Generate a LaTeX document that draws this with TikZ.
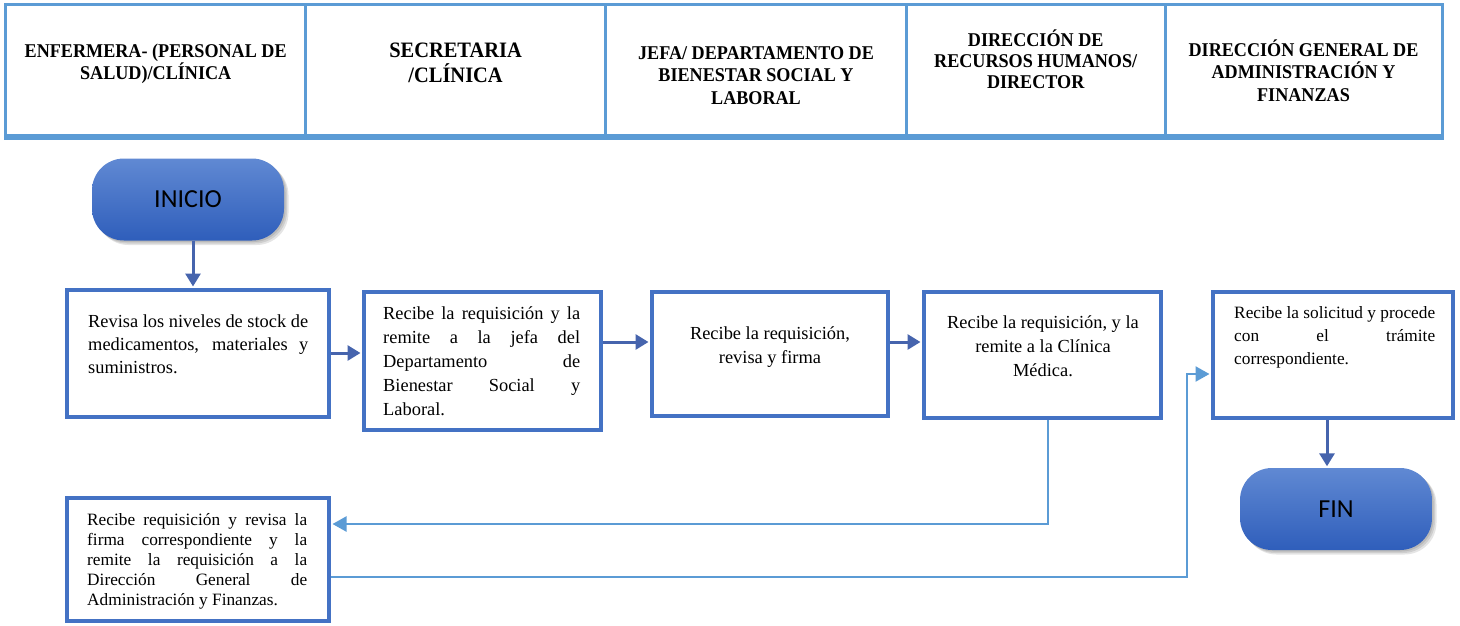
\documentclass[tikz,border=0pt]{standalone}
\usepackage{fontspec}
\setmainfont{Liberation Serif}
\newfontfamily\hdrfont[FakeStretch=0.93]{Liberation Serif}
\newfontfamily\pillfont{Carlito}
\usetikzlibrary{arrows.meta,shadows}
\definecolor{hdrblue}{HTML}{5B9BD5}
\definecolor{boxblue}{HTML}{4472C4}
\definecolor{arrblue}{HTML}{4664AD}
\definecolor{lnkblue}{HTML}{5B9BD5}
\definecolor{pilltop}{HTML}{6089D3}
\definecolor{pillbot}{HTML}{2F5EBB}
\tikzset{
  % fixed interword spaces of the font's own width inside aligned node text
  natspaces/.style={execute at begin node={\spaceskip=\fontdimen2\font\xspaceskip=\fontdimen2\font}},
  hcell/.style={draw=hdrblue, line width=3pt, minimum height=130.8pt, inner sep=0pt},
  htext/.style={font=\hdrfont\bfseries\fontsize{#1}{22.5}\selectfont, align=center, text width=290pt, inner sep=0pt, anchor=base, natspaces},
  stepbox/.style={draw=boxblue, line width=4pt, fill=white, inner sep=0pt},
  btext/.style={align=left, inner sep=0pt, anchor=base west, natspaces},
  ctext/.style={align=center, inner sep=0pt, anchor=base, text width=230pt, natspaces},
  softshadow/.style={drop shadow={shadow xshift=#1pt, shadow yshift=-#1pt, opacity=0.10, fill=black}},
  pill/.style={rounded corners=32pt, draw=none, top color=pilltop, bottom color=pillbot,
    minimum width=192pt, minimum height=82pt, inner sep=0pt,
    font=\pillfont\fontsize{26}{30}\selectfont,
    softshadow=1.5, softshadow=3, softshadow=4.5},
  darr/.style={draw=arrblue, line width=3pt, shorten >=1.5pt,
    -{Triangle[length=13pt,width=15pt]}},
  larr/.style={draw=lnkblue, line width=2.3pt, shorten >=1.5pt,
    -{Triangle[length=14pt,width=15pt]}},
}
% one fully justified line of a given width
\newcommand{\jline}[2]{\makebox[#1][s]{\spaceskip=0pt\xspaceskip=0pt #2}}
\begin{document}
\begin{tikzpicture}[x=1pt,y=-1pt]
\useasboundingbox (0,0) rectangle (1460,625);

% header row with the five areas
\node[hcell, minimum width=300pt]   (h1) at (155.7,70.1) {};
\node[hcell, minimum width=299.8pt] (h2) at (455.6,70.1) {};
\node[hcell, minimum width=301pt]   (h3) at (756,70.1) {};
\node[hcell, minimum width=258.5pt] (h4) at (1035.75,70.1) {};
\node[hcell, minimum width=277pt]   (h5) at (1303.5,70.1) {};
\draw[hdrblue, line width=5.6pt] (h1.south west) -- (h5.south east);

\node[htext=19.5] (ht1) at (155.7,57) {ENFERMERA- (PERSONAL DE\\SALUD)/CLÍNICA};
\node[htext=22, font=\hdrfont\bfseries\fontsize{22}{25}\selectfont] (ht2) at (455.6,57) {SECRETARIA\\/CLÍNICA};
\node[htext=19.5] (ht3) at (756,59) {JEFA/ DEPARTAMENTO DE\\BIENESTAR SOCIAL Y\\LABORAL};
\node[htext=19.5, font=\hdrfont\bfseries\fontsize{19.5}{21}\selectfont] (ht4) at (1035.7,46) {DIRECCIÓN DE\\RECURSOS HUMANOS/\\DIRECTOR};
\node[htext=19.5] (ht5) at (1303.5,56) {DIRECCIÓN GENERAL DE\\ADMINISTRACIÓN Y\\FINANZAS};

% terminals
\node[pill] (ini) at (188,199.5) {INICIO};
\node[pill] (fin) at (1336,509) {FIN};

% process boxes
\node[stepbox, minimum width=262pt, minimum height=127pt] (b1) at (198,353.5) {};
\node[stepbox, minimum width=237pt, minimum height=138pt] (b2) at (482.5,361) {};
\node[stepbox, minimum width=236pt, minimum height=124pt] (b3) at (770,354) {};
\node[stepbox, minimum width=237pt, minimum height=126pt] (b4) at (1042.5,355) {};
\node[stepbox, minimum width=240pt, minimum height=126pt] (b5) at (1333,355) {};
\node[stepbox, minimum width=262pt, minimum height=123pt] (b6) at (198,559.5) {};

% box texts
\node[btext, text width=220pt, font=\fontsize{18.4}{23}\selectfont] (t1) at (88,327)
  {\jline{220pt}{Revisa los niveles de stock de}\\\jline{220pt}{medicamentos, materiales y}\\suministros.};
\node[btext, text width=197pt, font=\fontsize{18.4}{24}\selectfont] (t2) at (383,319)
  {\jline{197pt}{Recibe la requisición y la}\\\jline{197pt}{remite a la jefa del}\\\jline{197pt}{Departamento de}\\\jline{197pt}{Bienestar Social y}\\Laboral.};
\node[ctext, font=\fontsize{18.4}{24}\selectfont] (t3) at (770,339)
  {Recibe la requisición,\\revisa y firma};
\node[ctext, font=\fontsize{18.4}{24}\selectfont] (t4) at (1043,328)
  {Recibe la requisición, y la\\remite a la Clínica\\Médica.};
\node[btext, text width=201pt, font=\fontsize{17.3}{23}\selectfont] (t5) at (1234,318)
  {\jline{201pt}{Recibe la solicitud y procede}\\\jline{201pt}{con el trámite}\\correspondiente.};
\node[btext, text width=220pt, font=\fontsize{17.3}{20}\selectfont] (t6) at (87,525)
  {\jline{220pt}{Recibe requisición y revisa la}\\\jline{220pt}{firma correspondiente y la}\\\jline{220pt}{remite la requisición a la}\\\jline{220pt}{Dirección General de}\\Administración y Finanzas.};

% connector guide points
\coordinate (c1) at (193,0);
\coordinate (r1) at (0,353);
\coordinate (r2) at (0,342);
\coordinate (c5) at (1327,0);
\coordinate (k1) at (1048,524);
\coordinate (k2) at (1187,577);
\coordinate (k3) at (1187,374);

% main flow
\draw[darr] (ini.south -| c1) -- (b1.north -| c1);
\draw[darr] (b1.east |- r1) -- (b2.west |- r1);
\draw[darr] (b2.east |- r2) -- (b3.west |- r2);
\draw[darr] (b3.east |- r2) -- (b4.west |- r2);
\draw[darr] (b5.south -| c5) -- (fin.north -| c5);

% return loop through the clinic
\draw[larr] (b4.south -| k1) |- (b6.east |- k1);
\draw[larr] (b6.east |- k2) -- (k2) -- (k3) -- (b5.west |- k3);
\end{tikzpicture}
\end{document}
